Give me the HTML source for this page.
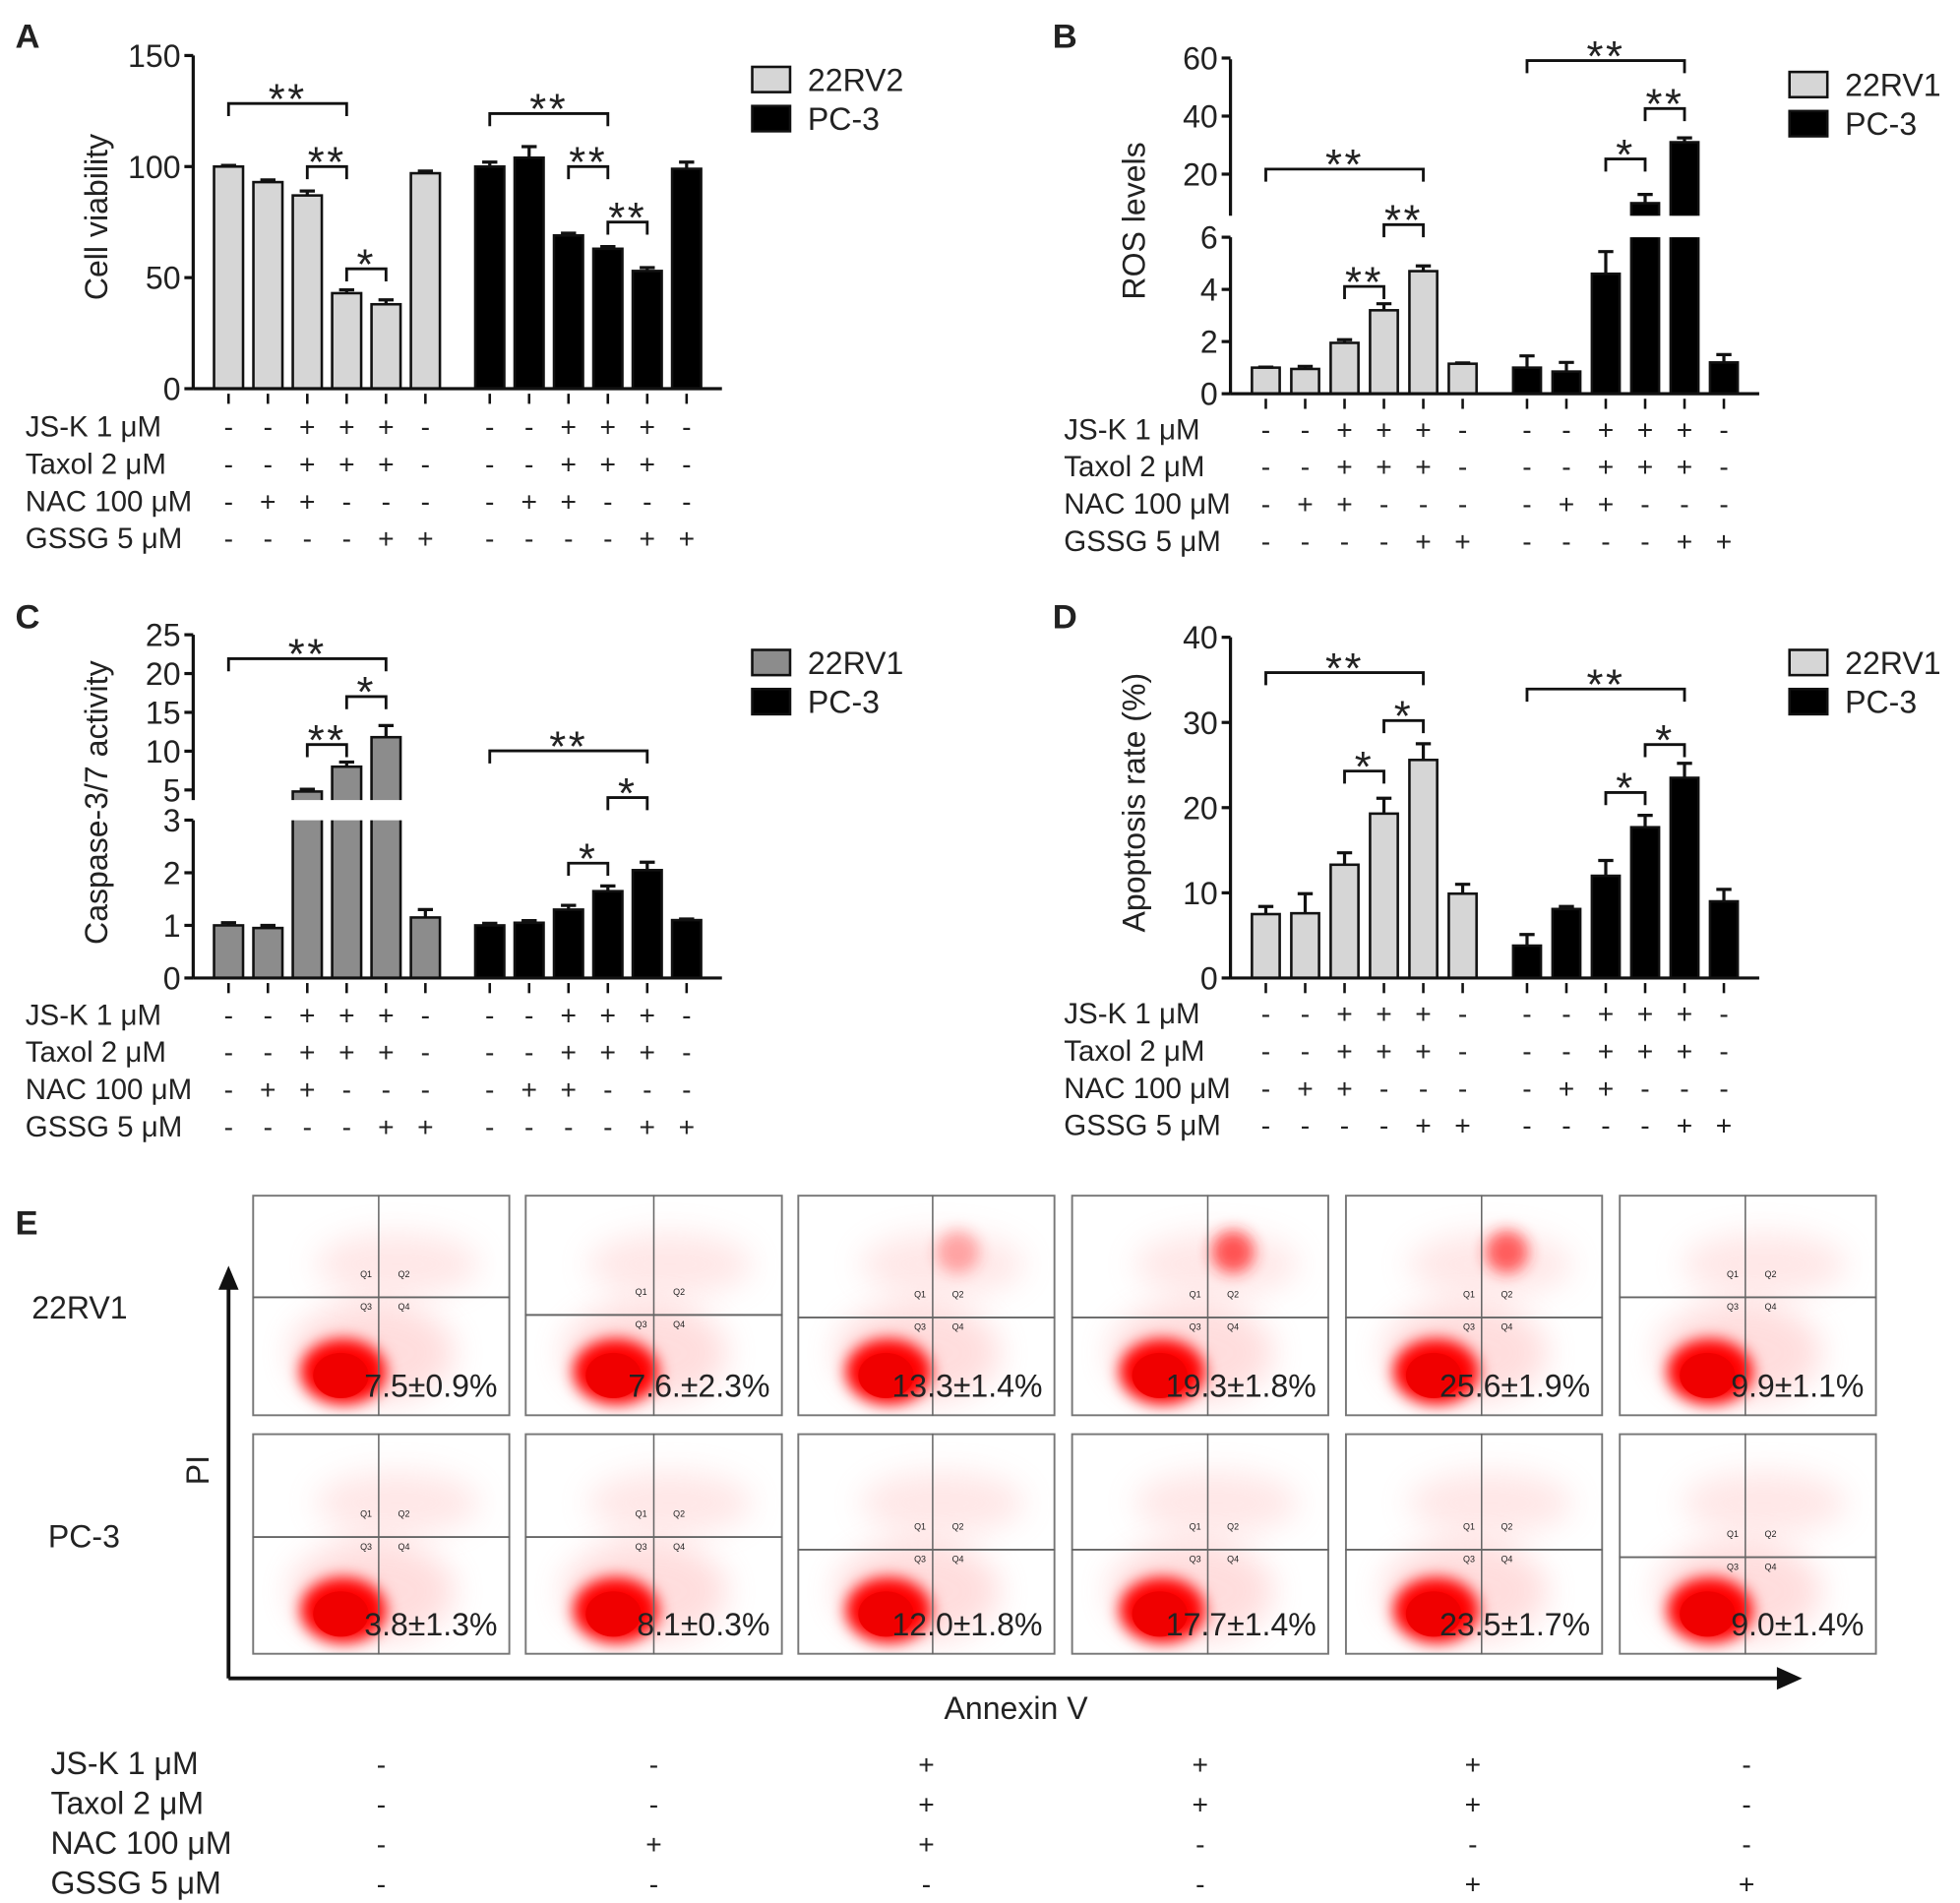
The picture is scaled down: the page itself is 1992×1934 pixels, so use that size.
<!DOCTYPE html>
<html><head><meta charset="utf-8">
<style>
html,body{margin:0;padding:0;background:#fff;}
svg{display:block;}
text{font-family:"Liberation Sans",Arial,sans-serif;fill:#222;}
</style></head>
<body>
<svg id="fig" width="1992" height="1934" viewBox="0 0 1553 1508" xmlns="http://www.w3.org/2000/svg">
<defs>
<filter id="blur6" x="-50%" y="-50%" width="200%" height="200%"><feGaussianBlur stdDeviation="6"/></filter>
<filter id="blur12" x="-50%" y="-50%" width="200%" height="200%"><feGaussianBlur stdDeviation="12"/></filter>
<clipPath id="c0"><rect x="0" y="0" width="204" height="175"/></clipPath>
</defs>
</svg>
<script>
// ---------- DATA ----------
const treatments = ["JS-K 1 μM","Taxol 2 μM","NAC 100 μM","GSSG 5 μM"];
const signs = [
  ["-","-","+","+","+","-"],
  ["-","-","+","+","+","-"],
  ["-","+","+","-","-","-"],
  ["-","-","-","-","+","+"]
];
const viabRV = [100,93,87,43,38,97];
const viabRVerr = [0.5,1,2,1.5,2,1];
const viabPC = [100,104,69,63,53,99];
const viabPCerr = [2,5,1,1,1.5,3];
const rosRV = [1,0.95,1.95,3.2,4.7,1.15];
const rosRVerr = [0.02,0.1,0.12,0.25,0.2,0.03];
const rosPC = [1,0.85,4.6,10,31,1.2];
const rosPCerr = [0.45,0.35,0.85,3,1.5,0.3];
const caspRV = [1,0.95,4.8,8,11.8,1.15];
const caspRVerr = [0.05,0.05,0.3,0.6,1.5,0.15];
const caspPC = [1,1.05,1.3,1.65,2.05,1.1];
const caspPCerr = [0.04,0.04,0.08,0.1,0.15,0.02];
const apoRV = [7.5,7.6,13.3,19.3,25.6,9.9];
const apoRVerr = [0.9,2.3,1.4,1.8,1.9,1.1];
const apoPC = [3.8,8.1,12.0,17.7,23.5,9.0];
const apoPCerr = [1.3,0.3,1.8,1.4,1.7,1.4];
const flowLabelsRV = ["7.5±0.9%","7.6.±2.3%","13.3±1.4%","19.3±1.8%","25.6±1.9%","9.9±1.1%"];
const flowLabelsPC = ["3.8±1.3%","8.1±0.3%","12.0±1.8%","17.7±1.4%","23.5±1.7%","9.0±1.4%"];

const NS="http://www.w3.org/2000/svg";
const svg=document.getElementById('fig');
function mk(tag,attrs,parent,text){const e=document.createElementNS(NS,tag);for(const k in attrs)e.setAttribute(k,attrs[k]);if(text!==undefined)e.textContent=text;(parent||svg).appendChild(e);return e;}
function grp(name,parent){const g=mk('g',{},parent);return g;}

function panel(o){
  const g=grp(o.name);
  const L=mk('text',{x:o.letterX,y:o.letterY,'font-size':27,'font-weight':'bold'},g,o.letter);
  
  const xs1=[0,1,2,3,4,5].map(i=>o.x0+i*o.step);
  const xs2=[0,1,2,3,4,5].map(i=>o.x1+i*o.step);
  const allX=xs1.concat(xs2);
  function drawBars(vals,errs,xs,fill,nm){
    vals.forEach((v,i)=>{
      const x=xs[i], top=o.y(v), base=o.y(0);
      const b=mk('rect',{x:x-o.bw/2,y:top,width:o.bw,height:base-top,fill:fill,stroke:'#111','stroke-width':2},g);
      
      
      const et=o.y(v+errs[i]);
      const e=mk('path',{d:`M${x} ${top}V${et}M${x-6} ${et}H${x+6}`,stroke:'#111','stroke-width':2.5,fill:'none'},g);
      
      
    });
  }
  drawBars(o.v1,o.e1,xs1,o.fill1,'series1');
  drawBars(o.v2,o.e2,xs2,'#000','pc3');
  if(o.gap){const r=mk('rect',{x:o.axX+4,y:o.gap[0],width:o.x1+5*o.step+30-o.axX,height:o.gap[1]-o.gap[0],fill:'#fff'},g);
    }
  const ax=grp('y-axis',g);
  o.segs.forEach(s=>mk('line',{x1:o.axX,x2:o.axX,y1:s[0],y2:s[1],stroke:'#111','stroke-width':2.5},ax));
  o.ticks.forEach((t,i)=>{const y=o.y(t);mk('line',{x1:o.axX-7,x2:o.axX,y1:y,y2:y,stroke:'#111','stroke-width':2.5},ax);
    mk('text',{x:o.axX-10,y:y+9,'font-size':25,'text-anchor':'end'},ax,o.tickLabels[i]);});
  const base=o.y(0);
  const xa=grp('x-axis',g);
  mk('line',{x1:o.axX,x2:o.x1+5*o.step+28,y1:base,y2:base,stroke:'#111','stroke-width':2.5},xa);
  allX.forEach(x=>mk('line',{x1:x,x2:x,y1:base+4,y2:base+12,stroke:'#111','stroke-width':2},xa));
  const yt=mk('text',{transform:`translate(${o.axX-68},${o.titleY}) rotate(-90)`,'font-size':25,'text-anchor':'middle'},g,o.title);
  
  const tb=grp('treatment-table',g);
  treatments.forEach((t,r)=>{
    const y=o.rowY+r*29.5;
    mk('text',{x:o.labX,y:y+8,'font-size':23},tb,t);
    allX.forEach((x,i)=>mk('text',{x:x,y:y+8,'font-size':22,'text-anchor':'middle'},tb,signs[r][i%6]));
  });
  const lg=grp('legend',g);
  [[o.fill1,o.leg[0]],['#000','PC-3']].forEach((e,i)=>{
    const ly=o.legY+i*31;
    const r=mk('rect',{x:o.legX,y:ly,width:30,height:20,fill:e[0],stroke:'#111','stroke-width':2},lg);
    
    mk('text',{x:o.legX+44,y:ly+19,'font-size':25},lg,e[1]);
  });
  const sg=grp('significance-brackets',g);
  o.sig.forEach(s=>{
    const xa_=allX[s[0]], xb=allX[s[1]], y=s[2];
    mk('path',{d:`M${xa_} ${y+10}V${y}H${xb}V${y+10}`,stroke:'#111','stroke-width':2.2,fill:'none'},sg);
    mk('text',{x:(xa_+xb)/2,y:y+8,'font-size':34,'text-anchor':'middle',fill:'#444','letter-spacing':'2'},sg,s[3]);
  });
}

panel({name:'panel-a-cell-viability',letter:'A',letterX:12,letterY:38,axX:153,x0:181,x1:388,step:31.2,bw:23,
  y:v=>308-v*264/150, v1:viabRV,e1:viabRVerr,v2:viabPC,e2:viabPCerr,fill1:'#d6d6d6',
  segs:[[44,308]],ticks:[0,50,100,150],tickLabels:["0","50","100","150"],
  title:'Cell viability',titleY:172,rowY:338,labX:20,leg:['22RV2'],legX:596,legY:53,
  sig:[[0,3,82,'**'],[2,3,132,'**'],[3,4,213,'*'],[6,9,90,'**'],[8,9,132,'**'],[9,10,176,'**']]});

panel({name:'panel-b-ros-levels',letter:'B',letterX:834,letterY:38,axX:975,x0:1003,x1:1210,step:31.2,bw:22,
  y:v=>v<=6?312-v*(124/6):(v<=8?188:138-(v-20)*2.3),
  v1:rosRV,e1:rosRVerr,v2:rosPC,e2:rosPCerr,fill1:'#d6d6d6',gap:[171,188],
  segs:[[47,171],[188,312]],ticks:[0,2,4,6,20,40,60],tickLabels:["0","2","4","6","20","40","60"],
  title:'ROS levels',titleY:175,rowY:340,labX:843,leg:['22RV1'],legX:1418,legY:57,
  sig:[[0,4,134,'**'],[2,3,227,'**'],[3,4,178,'**'],[6,10,48,'**'],[8,9,126,'*'],[9,10,86,'**']]});

panel({name:'panel-c-caspase-activity',letter:'C',letterX:12,letterY:498,axX:153,x0:181,x1:388,step:31.2,bw:23,
  y:v=>v<=3?775-v*41.7:(v<=4?634:626-(v-5)*6.15),
  v1:caspRV,e1:caspRVerr,v2:caspPC,e2:caspPCerr,fill1:'#8c8c8c',gap:[634,650],
  segs:[[503,634],[650,775]],ticks:[0,1,2,3,5,10,15,20,25],tickLabels:["0","1","2","3","5","10","15","20","25"],
  title:'Caspase-3/7 activity',titleY:636,rowY:804,labX:20,leg:['22RV1'],legX:596,legY:515,
  sig:[[0,4,522,'**'],[3,4,552,'*'],[2,3,590,'**'],[6,10,595,'**'],[9,10,632,'*'],[8,9,684,'*']]});

panel({name:'panel-d-apoptosis-rate',letter:'D',letterX:834,letterY:498,axX:975,x0:1003,x1:1210,step:31.2,bw:22,
  y:v=>775-v*6.75, v1:apoRV,e1:apoRVerr,v2:apoPC,e2:apoPCerr,fill1:'#d6d6d6',
  segs:[[505,775]],ticks:[0,10,20,30,40],tickLabels:["0","10","20","30","40"],
  title:'Apoptosis rate (%)',titleY:636,rowY:803,labX:843,leg:['22RV1'],legX:1418,legY:515,
  sig:[[0,4,533,'**'],[2,3,611,'*'],[3,4,571,'*'],[6,10,546,'**'],[8,9,628,'*'],[9,10,590,'*']]});

(function(){
  const g=grp('panel-e-flow-cytometry');
  const L=mk('text',{x:12,y:978,'font-size':27,'font-weight':'bold'},g,'E');
  
  const colX=[200,416,632,849,1066,1283];
  const rowY=[947,1136];
  const hLine=[[81,95,97,97,97,81],[82,82,92,92,92,98]];
  const vLine=[100,102,107,108,108,100];
  const labels=[flowLabelsRV,flowLabelsPC];
  const upper=[[0,0,0.35,0.75,0.7,0],[0,0,0,0,0,0]];
  rowY.forEach((ry,r)=>colX.forEach((cx,c)=>{
    const p=mk('g',{transform:`translate(${cx},${ry})`},g);
    
    
    const cg=mk('g',{'clip-path':'url(#c0)'},p);
    mk('ellipse',{cx:115,cy:55,rx:65,ry:25,fill:'#ffb0b0',opacity:0.3,filter:'url(#blur12)'},cg);
    mk('ellipse',{cx:95,cy:125,rx:65,ry:40,fill:'#ff9090',opacity:0.3,filter:'url(#blur12)'},cg);
    if(upper[r][c]>0) mk('ellipse',{cx:vLine[c]+20,cy:45,rx:17,ry:17,fill:'#ff2020',opacity:upper[r][c],filter:'url(#blur6)'},cg);
    mk('ellipse',{cx:72,cy:140,rx:34,ry:26,fill:'#ff0000',filter:'url(#blur6)'},cg);
    mk('ellipse',{cx:70,cy:143,rx:22,ry:18,fill:'#f00000'},cg);
    mk('rect',{x:0.5,y:0.5,width:203,height:174,fill:'none',stroke:'#777','stroke-width':1.5},p);
    mk('line',{x1:vLine[c],x2:vLine[c],y1:0,y2:175,stroke:'#666','stroke-width':1.2},p);
    mk('line',{x1:0,x2:204,y1:hLine[r][c],y2:hLine[r][c],stroke:'#666','stroke-width':1.5},p);
    [['Q1',-10,-16],['Q2',20,-16],['Q3',-10,10],['Q4',20,10]].forEach(q=>
      mk('text',{x:vLine[c]+q[1],y:hLine[r][c]+q[2],'font-size':7,'text-anchor':'middle',fill:'#555'},p,q[0]));
    mk('text',{x:194,y:160,'font-size':25,'text-anchor':'end',fill:'#111'},p,labels[r][c]);
  }));
  const ax=grp('flow-axes',g);
  mk('path',{d:'M181 1330V1020M181 1330H1410',stroke:'#111','stroke-width':3,fill:'none'},ax);
  mk('path',{d:'M181 1003L173 1022H189Z',fill:'#111'},ax);
  mk('path',{d:'M1428 1330L1408 1321V1339Z',fill:'#111'},ax);
  const pi=mk('text',{transform:'translate(165,1165) rotate(-90)','font-size':25,'text-anchor':'middle'},ax,'PI');
  
  const an=mk('text',{x:805,y:1362,'font-size':25,'text-anchor':'middle'},ax,'Annexin V');
  
  mk('text',{x:25,y:1045,'font-size':25},g,'22RV1');
  mk('text',{x:38,y:1226,'font-size':25},g,'PC-3');
  const tb=grp('treatment-table',g);
  const sx=[302,518,734,951,1167,1384];
  treatments.forEach((t,r)=>{
    const y=1397+r*31.5;
    mk('text',{x:40,y:y+9,'font-size':25},tb,t);
    sx.forEach((x,i)=>mk('text',{x:x,y:y+9,'font-size':22,'text-anchor':'middle'},tb,signs[r][i]));
  });
})();
</script>
</body></html>
